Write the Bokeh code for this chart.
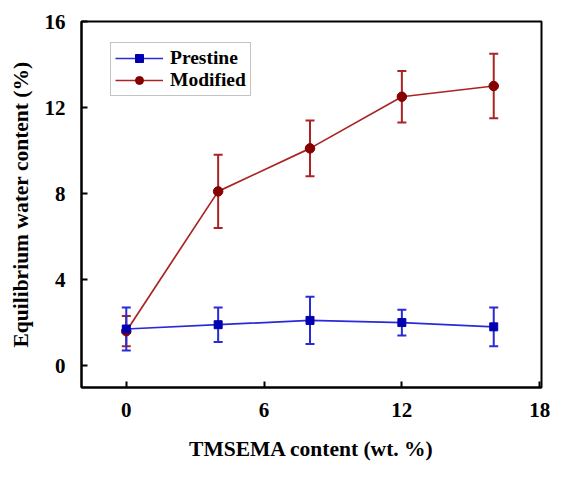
from bokeh.plotting import figure
from bokeh.models import ColumnDataSource, Whisker, TeeHead, Range1d, FixedTicker, Legend, LegendItem
from bokeh.embed import file_html
from bokeh.resources import INLINE

# Data
tmsema_wt = [0, 4, 8, 12, 16]
prestine = [1.7, 1.9, 2.1, 2.0, 1.8]
prestine_err = [1.0, 0.8, 1.1, 0.6, 0.9]
modified = [1.6, 8.1, 10.1, 12.5, 13.0]
modified_err = [0.7, 1.7, 1.3, 1.2, 1.5]
x_ticks = [0, 6, 12, 18]
y_ticks = [0, 4, 8, 12, 16]

FONT = "Liberation Serif"

src_p = ColumnDataSource(dict(x=tmsema_wt, y=prestine,
                              lo=[v - e for v, e in zip(prestine, prestine_err)],
                              hi=[v + e for v, e in zip(prestine, prestine_err)]))
src_m = ColumnDataSource(dict(x=tmsema_wt, y=modified,
                              lo=[v - e for v, e in zip(modified, modified_err)],
                              hi=[v + e for v, e in zip(modified, modified_err)]))

p = figure(width=552, height=463, output_backend="svg", toolbar_location=None,
           x_range=Range1d(-1.95, 18.08), y_range=Range1d(-1.02, 16.0),
           min_border_left=81, min_border_right=11, min_border_top=21, min_border_bottom=70)
p.background_fill_color = "white"
p.border_fill_color = "white"
p.grid.visible = False
p.outline_line_color = "black"
p.outline_line_width = 2

for ax in (p.xaxis[0], p.yaxis[0]):
    ax.axis_line_width = 2
    ax.major_tick_in = 6
    ax.major_tick_out = 0
    ax.major_tick_line_width = 2
    ax.minor_tick_line_color = None
    ax.major_label_text_font = FONT
    ax.major_label_text_font_style = "bold"
    ax.major_label_text_font_size = "21px"
    ax.major_label_text_color = "black"
    ax.axis_label_text_font = FONT
    ax.axis_label_text_font_style = "bold"
    ax.axis_label_text_font_size = "21.5px"
    ax.axis_label_text_color = "black"

p.xaxis.ticker = FixedTicker(ticks=x_ticks)
p.yaxis.ticker = FixedTicker(ticks=y_ticks)
p.xaxis.axis_label = "TMSEMA content (wt. %)"
p.yaxis.axis_label = "Equilibrium water content (%)"
p.xaxis.major_label_standoff = 15
p.yaxis.major_label_standoff = 16
p.xaxis.axis_label_standoff = 17
p.yaxis.axis_label_standoff = 9

blue_line = "#2a2ad8"
blue_mark = "#0000b0"
red_line = "#aa2424"
red_mark = "#850000"

wp = Whisker(source=src_p, base="x", upper="hi", lower="lo", dimension="height",
             line_color=blue_line, line_width=2,
             upper_head=TeeHead(size=9, line_color=blue_line, line_width=2),
             lower_head=TeeHead(size=9, line_color=blue_line, line_width=2))
wm = Whisker(source=src_m, base="x", upper="hi", lower="lo", dimension="height",
             line_color=red_line, line_width=2,
             upper_head=TeeHead(size=9, line_color=red_line, line_width=2),
             lower_head=TeeHead(size=9, line_color=red_line, line_width=2))
p.add_layout(wm)
p.add_layout(wp)

lm = p.line("x", "y", source=src_m, line_color=red_line, line_width=1.7)
mm = p.scatter("x", "y", source=src_m, marker="circle", size=9.5, fill_color=red_mark, line_color=red_mark)
lp = p.line("x", "y", source=src_p, line_color=blue_line, line_width=1.7)
mp = p.scatter("x", "y", source=src_p, marker="square", size=8, fill_color=blue_mark, line_color=blue_mark)

legend = Legend(items=[LegendItem(label="Prestine", renderers=[lp, mp]),
                       LegendItem(label="Modified", renderers=[lm, mm])],
                location=(29, 291))
legend.margin = 0
legend.padding = 4
legend.spacing = 0
legend.label_text_font = FONT
legend.label_text_font_style = "bold"
legend.label_text_font_size = "19.5px"
legend.label_text_color = "black"
legend.glyph_width = 48
legend.glyph_height = 20
legend.label_standoff = 7
legend.label_height = 20
legend.border_line_color = "#888888"
legend.border_line_width = 1
legend.background_fill_alpha = 1
p.add_layout(legend, "center")

open("out.html", "w").write(file_html(p, INLINE))
